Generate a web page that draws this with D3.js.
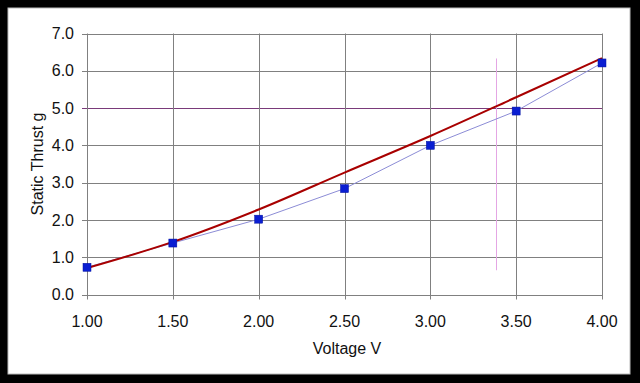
<!DOCTYPE html>
<html><head><meta charset="utf-8">
<script src="https://cdn.jsdelivr.net/npm/d3@7"></script>
<style>html,body{margin:0;padding:0;background:#000;}svg{display:block;}</style>
</head><body>
<script>
const voltages = [1.0, 1.5, 2.0, 2.5, 3.0, 3.5, 4.0];
const measuredThrust = [0.73, 1.38, 2.02, 2.84, 4.00, 4.92, 6.21];
const trendThrust = [0.71, 1.41, 2.28, 3.27, 4.25, 5.29, 6.34];
const xTicks = [1.0, 1.5, 2.0, 2.5, 3.0, 3.5, 4.0];
const yTicks = [0, 1, 2, 3, 4, 5, 6, 7];
const markerLineX = 3.38;
const markerLineY = [0.65, 6.33];
const highlightY = 5;

const W = 640, H = 383;
const svg = d3.select("body").append("svg").attr("width", W).attr("height", H);
svg.append("rect").attr("width", W).attr("height", H).attr("fill", "#000");
svg.append("rect").attr("x", 8).attr("y", 8).attr("width", 622).attr("height", 366)
  .attr("fill", "#fff").attr("stroke", "#bbb").attr("stroke-width", 1);

const x = d3.scaleLinear().domain([1, 4]).range([87, 602]);
const y = d3.scaleLinear().domain([0, 7]).range([294.5, 33.5]);
const font = "'Liberation Sans', Arial, sans-serif";

// gridlines
svg.append("g").selectAll("line").data(yTicks).join("line")
  .attr("x1", x(1) - 5).attr("x2", x(4))
  .attr("y1", d => Math.round(y(d)) + 0.5).attr("y2", d => Math.round(y(d)) + 0.5)
  .attr("stroke", d => d === highlightY ? "#7a3a7a" : "#808080").attr("stroke-width", 1);
svg.append("g").selectAll("line").data(xTicks).join("line")
  .attr("x1", d => Math.round(x(d)) + 0.5).attr("x2", d => Math.round(x(d)) + 0.5)
  .attr("y1", y(7)).attr("y2", y(0) + 5)
  .attr("stroke", "#808080").attr("stroke-width", 1);

// tick labels
svg.append("g").selectAll("text").data(yTicks).join("text")
  .attr("x", 74).attr("y", d => y(d)).attr("dy", "0.35em")
  .attr("text-anchor", "end").attr("font-family", font).attr("font-size", 16).attr("fill", "#111")
  .text(d => d3.format(".1f")(d));
svg.append("g").selectAll("text").data(xTicks).join("text")
  .attr("x", d => x(d)).attr("y", 327)
  .attr("text-anchor", "middle").attr("font-family", font).attr("font-size", 16).attr("fill", "#111")
  .text(d => d3.format(".2f")(d));

// axis titles
svg.append("text").attr("x", 347).attr("y", 354).attr("text-anchor", "middle")
  .attr("font-family", font).attr("font-size", 16).attr("fill", "#111").text("Voltage V");
svg.append("text").attr("transform", "translate(43,164) rotate(-90)").attr("text-anchor", "middle")
  .attr("font-family", font).attr("font-size", 16).attr("fill", "#111").text("Static Thrust g");

// vertical marker line
svg.append("line").attr("x1", Math.round(x(markerLineX)) + 0.5).attr("x2", Math.round(x(markerLineX)) + 0.5)
  .attr("y1", y(markerLineY[1])).attr("y2", y(markerLineY[0]))
  .attr("stroke", "#e4a6e4").attr("stroke-width", 1);

// measured line
const pts = voltages.map((v, i) => [v, measuredThrust[i]]);
svg.append("path").datum(pts)
  .attr("d", d3.line().x(d => x(d[0])).y(d => y(d[1])))
  .attr("fill", "none").attr("stroke", "#8c8cd6").attr("stroke-width", 1);

// trend line
const tpts = voltages.map((v, i) => [v, trendThrust[i]]);
svg.append("path").datum(tpts)
  .attr("d", d3.line().curve(d3.curveMonotoneX).x(d => x(d[0])).y(d => y(d[1])))
  .attr("fill", "none").attr("stroke", "#a80000").attr("stroke-width", 2);

// markers
svg.append("g").selectAll("rect").data(pts).join("rect")
  .attr("x", d => x(d[0]) - 4).attr("y", d => y(d[1]) - 4)
  .attr("width", 8).attr("height", 8)
  .attr("fill", "#0a1ed2").attr("stroke", "#0010a0").attr("stroke-width", 0.5);
</script>
</body></html>
